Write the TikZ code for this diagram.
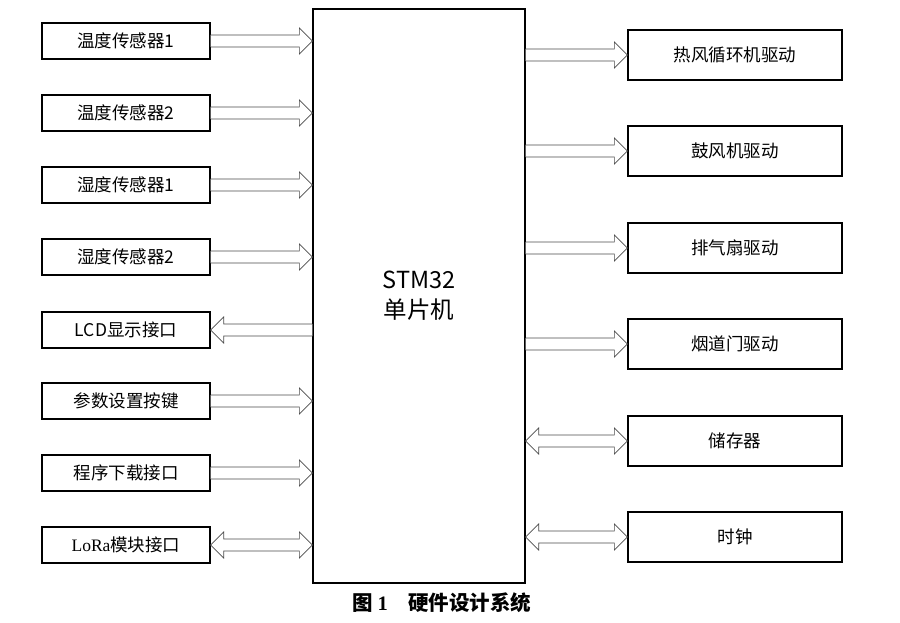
\documentclass[tikz,border=0pt]{standalone}
\usepackage{fontspec}
\setmainfont{Noto Sans CJK SC}
\newfontfamily\serifrm{Liberation Serif}
\usepackage{tikz}
\usetikzlibrary{calc}

% hollow block arrow, head at #2
\newcommand{\fwdarrow}[2]{%
  \draw[hollow] let \p1=(#1), \p2=(#2), \n1={sign(\x2-\x1)} in
    (\x1,\y1+6pt) -- (\x2-13pt*\n1,\y1+6pt) -- (\x2-13pt*\n1,\y1+13pt)
    -- (\x2,\y1) -- (\x2-13pt*\n1,\y1-13pt) -- (\x2-13pt*\n1,\y1-6pt)
    -- (\x1,\y1-6pt);}
% hollow block arrow, heads at both ends
\newcommand{\botharrow}[2]{%
  \draw[hollow] let \p1=(#1), \p2=(#2), \n1={sign(\x2-\x1)} in
    (\x1,\y1) -- (\x1+13pt*\n1,\y1+13pt) -- (\x1+13pt*\n1,\y1+6pt)
    -- (\x2-13pt*\n1,\y1+6pt) -- (\x2-13pt*\n1,\y1+13pt) -- (\x2,\y1)
    -- (\x2-13pt*\n1,\y1-13pt) -- (\x2-13pt*\n1,\y1-6pt)
    -- (\x1+13pt*\n1,\y1-6pt) -- (\x1+13pt*\n1,\y1-13pt) -- cycle;}

\begin{document}
\begin{tikzpicture}[
      x=1pt, y=-1pt,
      box/.style={draw, line width=1.3pt, inner sep=0pt, align=center,
                  font=\fontsize{17.5}{20}\selectfont},
      lbox/.style={box, minimum width=168pt, minimum height=36pt},
      rbox/.style={box, minimum width=214pt, minimum height=50pt},
      mcu/.style={box, minimum width=212pt, minimum height=574pt,
                  font=\fontsize{23.5}{30}\selectfont},
      hollow/.style={draw=black!70, line width=0.7pt, fill=white},
      figcap/.style={font=\fontsize{20.5}{24}\selectfont\bfseries},
    ]
    \useasboundingbox (0,0) rectangle (900,623);

    % controller
    \node[mcu] (mcu) at (419,296) {STM32\\单片机};

    % left column
    \node[lbox] (t1) at (126,41)  {温度传感器1};
    \node[lbox] (t2) at (126,113) {温度传感器2};
    \node[lbox] (h1) at (126,185) {湿度传感器1};
    \node[lbox] (h2) at (126,257) {湿度传感器2};
    \node[lbox] (lcd) at (126,330) {LCD显示接口};
    \node[lbox] (key) at (126,401) {参数设置按键};
    \node[lbox] (dl) at (126,473)  {程序下载接口};
    \node[lbox] (lora) at (126,545) {{\serifrm LoRa}模块接口};

    % right column
    \node[rbox] (fan) at (735,55)  {热风循环机驱动};
    \node[rbox] (blow) at (735,151) {鼓风机驱动};
    \node[rbox] (exh) at (735,248) {排气扇驱动};
    \node[rbox] (flue) at (735,344) {烟道门驱动};
    \node[rbox] (mem) at (735,441) {储存器};
    \node[rbox] (clk) at (735,537) {时钟};

    % arrows
    \fwdarrow{t1.east}{t1.east -| mcu.west}
    \fwdarrow{t2.east}{t2.east -| mcu.west}
    \fwdarrow{h1.east}{h1.east -| mcu.west}
    \fwdarrow{h2.east}{h2.east -| mcu.west}
    \fwdarrow{lcd.east -| mcu.west}{lcd.east}
    \fwdarrow{key.east}{key.east -| mcu.west}
    \fwdarrow{dl.east}{dl.east -| mcu.west}
    \botharrow{lora.east}{lora.east -| mcu.west}
    \fwdarrow{mcu.east |- fan.west}{fan.west}
    \fwdarrow{mcu.east |- blow.west}{blow.west}
    \fwdarrow{mcu.east |- exh.west}{exh.west}
    \fwdarrow{mcu.east |- flue.west}{flue.west}
    \botharrow{mcu.east |- mem.west}{mem.west}
    \botharrow{mcu.east |- clk.west}{clk.west}

    % caption
    \node[figcap] (caption) at (442,603) {图 {\serifrm 1}\quad 硬件设计系统};
\end{tikzpicture}
\end{document}
